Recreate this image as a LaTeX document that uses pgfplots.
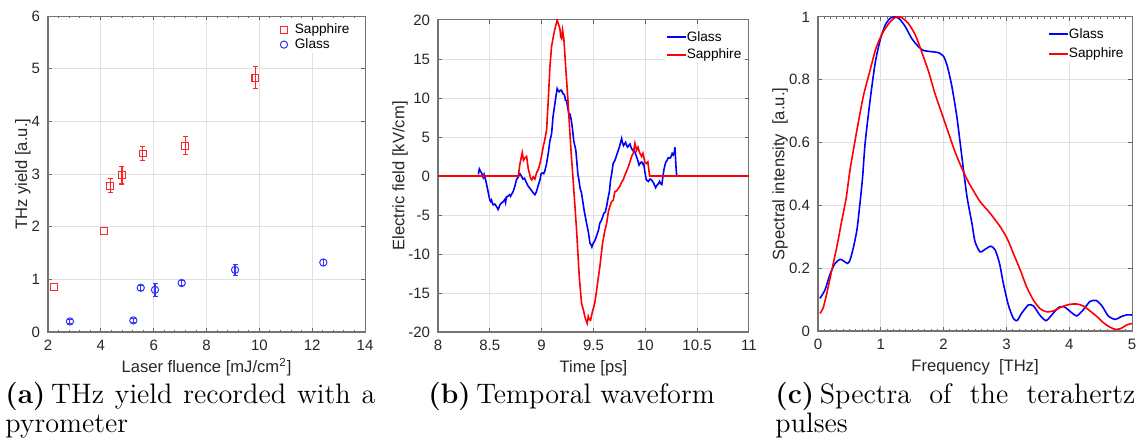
\documentclass[border=0pt]{standalone}
\usepackage{fontspec}
\setsansfont{Liberation Sans}
\usepackage{pgfplots}
\pgfplotsset{compat=1.18}
\definecolor{mblue}{rgb}{0,0,1}
\definecolor{mred}{rgb}{1,0,0}
\pgfplotsset{
 mystyle/.style={
  scale only axis,
  grid=major,
  major grid style={line width=0.4pt, color=black!12},
  axis line style={black!55, line width=0.45pt},
  tick style={black!60, line width=0.4pt},
  major tick length=1.7pt,
  minor tick length=1.0pt,
  tick align=inside,
  tick label style={font=\sffamily\fontsize{6.6}{7}\selectfont, color=black!85},
  label style={font=\sffamily\fontsize{7.3}{8}\selectfont, color=black!85},
  legend style={font=\sffamily\fontsize{6}{7}\selectfont, draw=none, fill=white, inner sep=0.5pt,
     nodes={inner sep=0.3pt, text height=4.6pt, text depth=1.3pt}},
  legend cell align=left,
  /pgf/number format/assume math mode=true,
  xlabel style={at={(axis description cs:0.5,0)}, anchor=base, yshift=-18pt},
 },
 linelegend/.style={legend image code/.code={\fill[##1, draw=none] (0pt,-0.42pt) rectangle (8.5pt,0.42pt);}},
}
\begin{document}
\begin{tikzpicture}
\path[use as bounding box] (0,0) rectangle (501.6pt,195.36pt);

% ---------- (a)
\begin{axis}[mystyle, at={(21.12pt,49.28pt)}, anchor=south west,
  width=139.5pt, height=139pt,
  xmin=2, xmax=14, ymin=0, ymax=6,
  xtick={2,4,...,14}, ytick={0,1,...,6}, minor x tick num=4,
  xlabel={Laser fluence [mJ/cm\textsuperscript{2}]},
  ylabel={THz yield [a.u.]},
  ylabel style={at={(axis description cs:-0.079,0.5)}, anchor=center},
  legend style={at={(0.958,0.985)}, anchor=north east, row sep=0pt},
  legend image code/.code={\path[draw=none] (0pt,0pt) -- (6.5pt,0pt); \draw[#1] plot coordinates {(2pt,0pt)};},
]
\addplot[only marks, mark=square, mark size=1.5pt, color=mred!85, mark options={draw=mred!85, fill=none, line width=0.45pt},
  error bars/.cd, y dir=both, y explicit,
  error bar style={line width=0.5pt, mred!85},
  error mark options={rotate=90, mark size=1.1pt, mred!85, line width=0.5pt}]
 table[x=x, y=y, y error=e] {
 x y e
 4.35 2.78 0.13
 4.80 2.98 0.17
 5.59 3.39 0.13
 7.20 3.54 0.17
 9.85 4.83 0.21
 };
\addlegendentry{Sapphire}
\addplot[forget plot, only marks, mark=square, mark size=1.5pt, color=mred!85, mark options={draw=mred!85, fill=none, line width=0.45pt}]
 table {
 2.22 0.86
 4.13 1.92
 };
\addplot[only marks, mark=o, mark size=1.6pt, color=mblue!80, mark options={draw=mblue!80, fill=none, line width=0.45pt},
  error bars/.cd, y dir=both, y explicit,
  error bar style={line width=0.5pt, mblue!80},
  error mark options={rotate=90, mark size=1.1pt, mblue!80, line width=0.5pt}]
 table[x=x, y=y, y error=e] {
 x y e
 2.83 0.20 0.04
 5.23 0.22 0.04
 5.51 0.84 0.05
 6.05 0.80 0.12
 7.06 0.93 0.05
 9.08 1.18 0.11
 12.42 1.32 0.05
 };
\addlegendentry{Glass}
\end{axis}

% ---------- (b)
\begin{axis}[mystyle, linelegend, at={(192.72pt,49.28pt)}, anchor=south west,
  width=136.8pt, height=137.3pt,
  xmin=8, xmax=11, ymin=-20, ymax=20,
  xtick={8,8.5,...,11}, xticklabels={8,8.5,9,9.5,10,10.5,11},
  ytick={-20,-15,...,20}, yticklabels={-20,-15,-10,-5,0,5,10,15,20},
  xlabel={Time [ps]},
  ylabel={Electric field [kV/cm]},
  ylabel style={at={(axis description cs:-0.122,0.5)}, anchor=center},
  legend style={at={(0.983,0.973)}, anchor=north east, row sep=1.1pt},
]
\addplot[mblue, line width=0.7pt] table {
8.389 0.2
8.399 0.9
8.41 0.6
8.42 0.4
8.436 -0.2
8.445 0.2
8.455 -0.3
8.468 -1.0
8.48 -1.8
8.5 -3.1
8.51 -3.3
8.516 -3.1
8.532 -3.7
8.548 -3.6
8.564 -3.9
8.58 -4.3
8.59 -4.0
8.597 -3.7
8.61 -3.5
8.629 -3.3
8.645 -3.0
8.652 -3.4
8.66 -2.7
8.675 -2.6
8.69 -2.4
8.70 -2.6
8.725 -2.0
8.74 -1.4
8.757 -0.5
8.775 -0.1
8.79 0.3
8.80 0.1
8.82 -0.4
8.835 -0.3
8.855 -0.9
8.87 -1.3
8.887 -1.6
8.905 -1.9
8.92 -2.2
8.935 -2.4
8.95 -2.0
8.965 -1.3
8.984 -0.5
8.995 0.3
9.01 0.4
9.02 0.3
9.03 0.6
9.048 1.6
9.065 3.0
9.08 4.5
9.096 5.4
9.11 7.6
9.125 9.0
9.138 10.2
9.15 11.2
9.16 10.9
9.17 10.8
9.18 11.0
9.19 11.0
9.205 10.6
9.22 10.4
9.23 9.7
9.24 9.7
9.25 8.9
9.267 7.6
9.276 7.8
9.286 7.2
9.298 6.0
9.31 4.5
9.33 3.3
9.35 0.2
9.36 -0.5
9.37 -1.5
9.385 -2.2
9.41 -4.4
9.434 -6.1
9.45 -7.1
9.466 -8.6
9.477 -8.8
9.485 -9.1
9.498 -8.6
9.51 -8.4
9.53 -7.7
9.55 -6.9
9.56 -6.1
9.58 -5.6
9.6 -4.8
9.615 -4.6
9.627 -3.9
9.64 -2.9
9.655 -1.9
9.665 -0.5
9.675 0.2
9.69 1.6
9.707 2.0
9.72 2.5
9.73 2.9
9.75 3.7
9.772 4.8
9.78 4.3
9.79 3.9
9.80 4.1
9.81 4.3
9.82 3.9
9.83 3.7
9.84 3.9
9.852 4.1
9.865 3.6
9.877 3.3
9.89 3.4
9.9 3.1
9.91 2.7
9.92 2.3
9.93 1.9
9.94 1.4
9.955 1.7
9.965 1.8
9.978 1.5
9.985 1.6
9.995 0.6
10.01 -0.5
10.03 -0.7
10.045 -0.4
10.06 -0.5
10.07 -0.7
10.08 -0.9
10.09 -1.2
10.1 -1.5
10.112 -1.2
10.12 -1.1
10.13 -0.9
10.138 -0.7
10.148 -1.0
10.16 -1.1
10.165 -0.6
10.17 -0.1
10.18 0.8
10.19 1.4
10.2 1.8
10.21 2.0
10.22 2.3
10.24 2.3
10.25 2.5
10.26 2.9
10.27 2.7
10.28 3.0
10.286 3.7
10.29 2.8
10.295 1.5
10.3 0.5
10.305 0
};
\addlegendentry{Glass}
\addplot[mred, line width=0.7pt] table {
8.0 0
8.775 0
8.79 1.5
8.813 3.0
8.825 2.0
8.839 2.3
8.855 2.5
8.87 1.0
8.894 -0.3
8.905 -0.5
8.919 -0.1
8.935 -0.4
8.951 0.4
8.97 0.9
8.984 1.6
9.0 2.6
9.016 3.8
9.03 4.6
9.048 5.9
9.065 10
9.08 14
9.096 16.6
9.108 17.5
9.119 18.3
9.135 19.2
9.15 20
9.162 19.5
9.176 18.9
9.185 17.8
9.193 17.6
9.202 18.7
9.215 17.5
9.234 13.6
9.255 9.5
9.273 5.5
9.29 2
9.305 -0.7
9.337 -6.9
9.363 -12.9
9.385 -16.3
9.407 -17.4
9.42 -18.2
9.434 -18.7
9.44 -18.9
9.45 -18.0
9.46 -18.4
9.472 -18.5
9.49 -17.4
9.513 -16.3
9.535 -14.2
9.562 -11.6
9.588 -8.6
9.61 -7.0
9.627 -6.1
9.645 -4.5
9.659 -3.9
9.675 -3.3
9.691 -3.1
9.707 -2.0
9.725 -1.9
9.74 -1.6
9.755 -1.3
9.772 -0.8
9.787 -0.5
9.80 0.0
9.819 0.6
9.835 1.1
9.852 1.8
9.868 2.5
9.884 2.9
9.9 4.2
9.916 3.3
9.93 3.7
9.945 3.0
9.965 2.5
9.978 2.9
9.995 1.8
10.012 1.6
10.025 1.8
10.042 0.0
11.0 0
};
\addlegendentry{Sapphire}
\end{axis}

% ---------- (c)
\begin{axis}[mystyle, linelegend, at={(359.92pt,49.72pt)}, anchor=south west,
  width=138.2pt, height=138.2pt,
  xmin=0, xmax=5, ymin=0, ymax=1,
  xtick={0,1,...,5}, ytick={0,0.2,0.4,0.6,0.8,1},
  yticklabels={0,0.2,0.4,0.6,0.8,1},
  minor x tick num=9,
  xlabel={Frequency\ \ [THz]},
  ylabel={Spectral intensity\ \ [a.u.]},
  ylabel style={at={(axis description cs:-0.121,0.5)}, anchor=center},
  legend style={at={(0.980,0.973)}, anchor=north east, row sep=2pt},
]
\addplot[mblue, line width=0.7pt, smooth, tension=0.4] table {
0.03 0.104
0.11 0.13
0.19 0.18
0.27 0.215
0.35 0.228
0.40 0.224
0.47 0.215
0.51 0.226
0.56 0.263
0.62 0.322
0.67 0.41
0.71 0.49
0.75 0.598
0.83 0.736
0.91 0.853
0.99 0.927
1.07 0.974
1.15 0.996
1.23 1.0
1.30 0.993
1.39 0.969
1.49 0.932
1.60 0.905
1.68 0.893
1.78 0.89
1.92 0.886
2.00 0.874
2.06 0.842
2.13 0.78
2.21 0.683
2.29 0.555
2.37 0.43
2.45 0.343
2.50 0.284
2.58 0.252
2.66 0.26
2.75 0.27
2.82 0.258
2.89 0.215
2.95 0.152
3.03 0.083
3.11 0.04
3.17 0.033
3.24 0.056
3.35 0.083
3.43 0.08
3.53 0.051
3.63 0.033
3.72 0.051
3.83 0.075
3.92 0.077
4.04 0.058
4.12 0.048
4.22 0.067
4.33 0.094
4.43 0.097
4.52 0.08
4.62 0.048
4.73 0.037
4.83 0.046
4.91 0.051
5.0 0.051
};
\addlegendentry{Glass}
\addplot[mred, line width=0.7pt, smooth, tension=0.4] table {
0.03 0.056
0.08 0.072
0.14 0.12
0.22 0.194
0.30 0.268
0.38 0.353
0.45 0.425
0.51 0.513
0.62 0.64
0.72 0.746
0.83 0.831
0.93 0.905
1.04 0.953
1.15 0.985
1.25 1.0
1.33 0.998
1.44 0.979
1.55 0.942
1.65 0.889
1.76 0.826
1.86 0.757
1.97 0.693
2.08 0.629
2.18 0.571
2.29 0.518
2.39 0.476
2.47 0.448
2.58 0.412
2.74 0.375
2.90 0.332
3.01 0.295
3.11 0.247
3.22 0.194
3.32 0.141
3.43 0.098
3.53 0.072
3.64 0.061
3.75 0.064
3.88 0.077
4.01 0.085
4.12 0.086
4.22 0.08
4.33 0.064
4.44 0.046
4.54 0.027
4.65 0.012
4.74 0.005
4.82 0.008
4.91 0.019
5.0 0.024
};
\addlegendentry{Sapphire}
\end{axis}

% ---------- captions
\node[anchor=base west, text width=162.8pt, align=justify, inner sep=0pt,
      font=\fontsize{12.4}{12.6}\selectfont] at (2.2pt,17.6pt)
  {\textbf{(a)}\hspace{0.2em}THz yield recorded with a\linebreak pyrometer};
\node[anchor=base west, inner sep=0pt, font=\fontsize{12.4}{12.6}\selectfont] at (188.3pt,17.6pt)
  {\textbf{(b)}\hspace{0.2em}Temporal waveform};
\node[anchor=base west, text width=158.4pt, align=justify, inner sep=0pt,
      font=\fontsize{12.4}{12.6}\selectfont] at (341pt,17.6pt)
  {\textbf{(c)}\hspace{0.2em}Spectra of the terahertz\linebreak pulses};
\end{tikzpicture}
\end{document}
